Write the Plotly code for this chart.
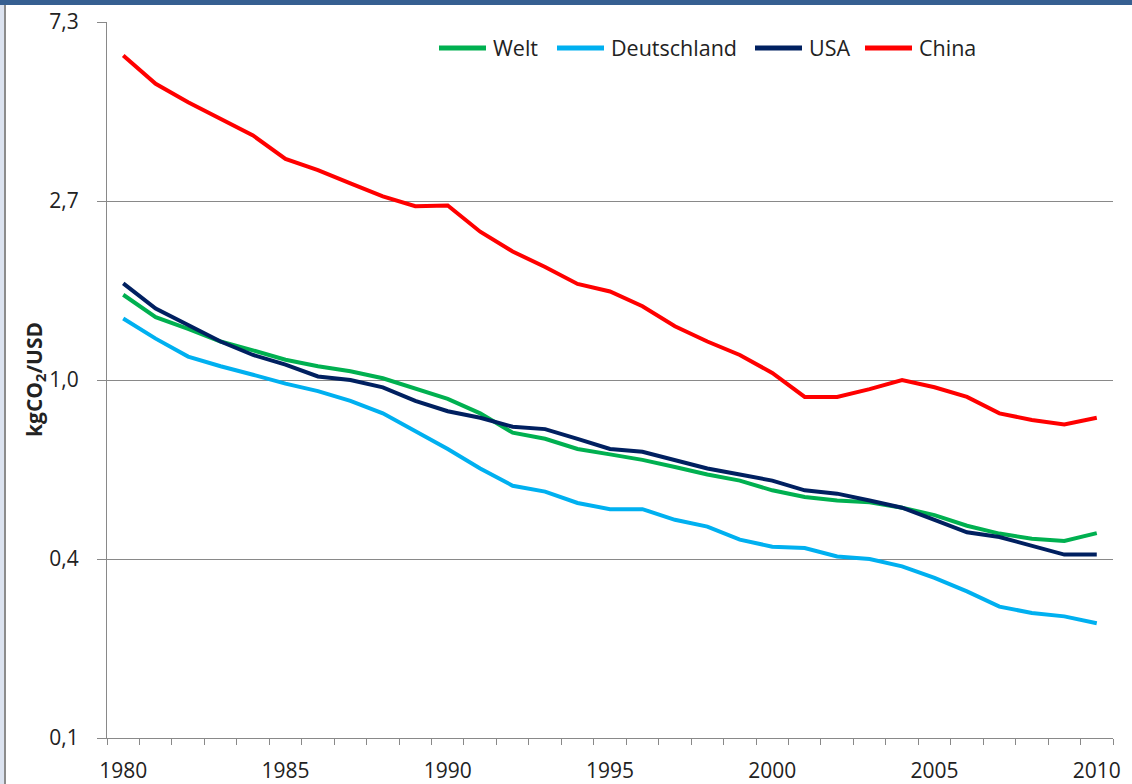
import math
import plotly.graph_objects as go

years = list(range(1980, 2011))

welt = [1.61, 1.42, 1.33, 1.24, 1.18, 1.12, 1.08, 1.05, 1.01, 0.955,
        0.90, 0.83, 0.745, 0.72, 0.68, 0.66, 0.64, 0.615, 0.59, 0.57,
        0.54, 0.52, 0.51, 0.505, 0.49, 0.47, 0.443, 0.424, 0.412, 0.407,
        0.425]
deutschland = [1.41, 1.26, 1.14, 1.08, 1.03, 0.98, 0.94, 0.89, 0.83, 0.75,
               0.68, 0.61, 0.554, 0.536, 0.503, 0.486, 0.486, 0.458, 0.441, 0.41,
               0.394, 0.391, 0.373, 0.368, 0.353, 0.331, 0.307, 0.282, 0.272, 0.267,
               0.257]
usa = [1.715, 1.49, 1.36, 1.24, 1.15, 1.09, 1.02, 1.00, 0.96, 0.89,
       0.84, 0.81, 0.77, 0.76, 0.72, 0.68, 0.67, 0.64, 0.61, 0.59,
       0.57, 0.54, 0.53, 0.51, 0.49, 0.458, 0.427, 0.416, 0.395, 0.377,
       0.377]
china = [6.13, 5.23, 4.72, 4.30, 3.92, 3.44, 3.23, 3.00, 2.79, 2.64,
         2.65, 2.29, 2.05, 1.88, 1.71, 1.64, 1.51, 1.35, 1.24, 1.15,
         1.04, 0.91, 0.91, 0.95, 1.00, 0.96, 0.91, 0.83, 0.80, 0.78,
         0.81]

series_names = ["Welt", "Deutschland", "USA", "China"]
series_values = [welt, deutschland, usa, china]
series_colors = ["#00B050", "#00B0F0", "#002060", "#FF0000"]

y_tick_vals = [math.exp(-2), math.exp(-1), 1.0, math.exp(1), math.exp(2)]
y_tick_text = ["0,1", "0,4", "1,0", "2,7", "7,3"]
x_tick_vals = [1980, 1985, 1990, 1995, 2000, 2005, 2010]

FONT = "Open Sans"
W, H = 1132, 784
L, R, T, B = 107, 19, 22, 46
pw = W - L - R
ph = H - T - B

def px_x(px):
    return (px - L) / pw

def px_y(py):
    return (H - B - py) / ph

fig = go.Figure()
for name, vals, col in zip(series_names, series_values, series_colors):
    fig.add_trace(go.Scatter(x=years, y=vals, name=name, mode="lines",
                             line=dict(color=col, width=4)))

fig.update_layout(
    width=W, height=H, autosize=False,
    margin=dict(l=L, r=R, t=T, b=B, autoexpand=False),
    paper_bgcolor="white", plot_bgcolor="white",
    font=dict(family=FONT, size=20, color="#222222"),
    showlegend=False,
    xaxis=dict(range=[1979.5, 2010.5], tickmode="array", tickvals=x_tick_vals,
               ticks="", showgrid=False, zeroline=False, automargin=False,
               showline=True, linecolor="#898989", linewidth=1,
               tickfont=dict(family=FONT, size=21, color="#222222"),
               ticklabelstandoff=14,
               minor=dict(tickmode="array", tickvals=[1979.5 + i for i in range(32)],
                          ticks="outside", ticklen=6, tickcolor="#898989", tickwidth=1,
                          showgrid=False)),
    yaxis=dict(type="log", range=[math.log10(math.exp(-2)), math.log10(math.exp(2))],
               tickmode="array", tickvals=y_tick_vals, ticktext=y_tick_text,
               ticks="outside", ticklen=9, tickcolor="#898989", automargin=False,
               showgrid=True, gridcolor="#898989", gridwidth=1,
               showline=True, linecolor="#898989", linewidth=1, zeroline=False,
               tickfont=dict(family=FONT, size=21, color="#222222"),
               ticklabelstandoff=14),
)

# legend row (line sample + label), laid out like the original Excel legend
legend_line_starts = [437, 555, 753, 863]
legend_y = 48
for name, col, x0 in zip(series_names, series_colors, legend_line_starts):
    fig.add_shape(type="line", xref="paper", yref="paper",
                  x0=px_x(x0 + 2), x1=px_x(x0 + 49), y0=px_y(legend_y), y1=px_y(legend_y),
                  line=dict(color=col, width=5), layer="above")
    fig.add_annotation(text=name, xref="paper", yref="paper",
                       x=px_x(x0 + 54), y=px_y(legend_y), xanchor="left", yanchor="middle",
                       showarrow=False, font=dict(family=FONT, size=21.5, color="#222222"))

fig.add_annotation(text="<b>kgCO<sub>2</sub>/USD</b>", xref="paper", yref="paper",
                   x=px_x(35), y=px_y(380), xanchor="center", yanchor="middle",
                   textangle=-90, showarrow=False,
                   font=dict(family=FONT, size=21, color="#222222"))

# decorative frame: dark top bar and light left border strip
fig.add_shape(type="rect", xref="paper", yref="paper",
              x0=px_x(0), x1=px_x(W), y0=px_y(5), y1=px_y(0),
              fillcolor="#365F91", line=dict(width=0), layer="above")
fig.add_shape(type="rect", xref="paper", yref="paper",
              x0=px_x(0), x1=px_x(4), y0=px_y(H), y1=px_y(5),
              fillcolor="#DCE3F0", line=dict(width=0), layer="above")
fig.add_shape(type="line", xref="paper", yref="paper",
              x0=px_x(5), x1=px_x(5), y0=px_y(H), y1=px_y(5),
              line=dict(color="#8C8C8C", width=2), layer="above")

fig.write_html("out.html",
               config={"displayModeBar": False, "responsive": False},
               post_script="document.body.style.margin='0';document.body.style.overflow='hidden';")
